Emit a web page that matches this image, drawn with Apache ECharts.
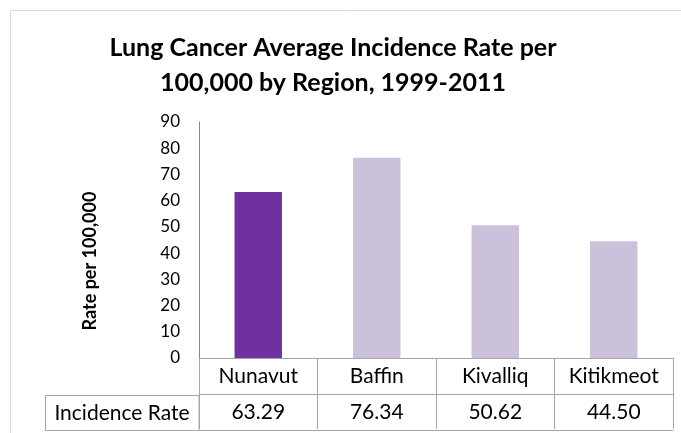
<!DOCTYPE html>
<html><head><meta charset="utf-8">
<script src="https://cdn.jsdelivr.net/npm/echarts@6/dist/echarts.min.js"></script>
<style>html,body{margin:0;padding:0;background:#fff}#c{width:681px;height:433px}</style>
</head><body><div id="c"></div>
<script>
const categories = ["Nunavut", "Baffin", "Kivalliq", "Kitikmeot"];
const rates = [63.29, 76.34, 50.62, 44.50];
const barColors = ["#7030A0", "#CCC1DA", "#CCC1DA", "#CCC1DA"];
const rowHeader = "Incidence Rate";
const yTitle = "Rate per 100,000";
const yMin = 0, yMax = 90, yStep = 10;

const FONT = "Lato";
const chart = echarts.init(document.getElementById('c'), null, {renderer: 'canvas'});
const gridLeft = 199, gridRight = 8, gridTop = 122, gridBottom = 75;
const rowH = 36;
const tableLine = '#A6A6A6';
const tableFont = 21;
chart.setOption({
  animation: false,
  textStyle: {fontFamily: FONT},
  title: {
    text: "Lung Cancer Average Incidence Rate per\n100,000 by Region, 1999-2011",
    left: 328, top: 25, textAlign: 'center',
    textStyle: {fontFamily: FONT, fontSize: 25, fontWeight: 'bold', color: '#000', lineHeight: 35}
  },
  grid: {left: gridLeft, right: gridRight, top: gridTop, bottom: gridBottom},
  xAxis: [{
    type: 'category', data: categories, position: 'bottom',
    axisLine: {show: true, lineStyle: {color: tableLine, width: 1}},
    axisTick: {show: true, length: rowH, lineStyle: {color: tableLine}},
    axisLabel: {color: '#000', fontSize: tableFont, fontFamily: FONT, margin: 8}
  }, {
    type: 'category', data: rates.map(v => v.toFixed(2)), position: 'bottom', offset: rowH,
    axisLine: {show: true, lineStyle: {color: tableLine, width: 1}},
    axisTick: {show: true, length: rowH - 1, lineStyle: {color: tableLine}},
    axisLabel: {color: '#000', fontSize: tableFont, fontFamily: FONT, margin: 8}
  }],
  yAxis: {
    type: 'value', min: yMin, max: yMax, interval: yStep,
    axisLine: {show: true, lineStyle: {color: '#868686'}},
    axisTick: {show: false},
    splitLine: {show: false},
    axisLabel: {color: '#000', fontSize: 17, fontFamily: FONT, margin: 19}
  },
  series: [{
    type: 'bar', xAxisIndex: 0,
    data: rates.map((v, i) => ({value: v, itemStyle: {color: barColors[i]}})),
    barWidth: '40%'
  }],
  graphic: [
    {type: 'rect', shape: {x: 10.5, y: 10.5, width: 700, height: 500}, style: {fill: 'none', stroke: '#D9D9D9', lineWidth: 1}, silent: true},
    {type: 'rect', shape: {x: 45.5, y: 395.5, width: 153.5, height: 35}, style: {fill: 'none', stroke: tableLine, lineWidth: 1}},
    {type: 'line', shape: {x1: 199, y1: 430.5, x2: 673.5, y2: 430.5}, style: {stroke: tableLine, lineWidth: 1}},
    {type: 'text', x: 122, y: 413, style: {text: rowHeader, font: tableFont + 'px ' + FONT, fill: '#000', align: 'center', verticalAlign: 'middle'}},
    {type: 'text', x: 90, y: 261, rotation: Math.PI / 2, style: {text: yTitle, font: 'bold 18px ' + FONT, fill: '#000', align: 'center', verticalAlign: 'middle'}}
  ]
});
</script></body></html>
